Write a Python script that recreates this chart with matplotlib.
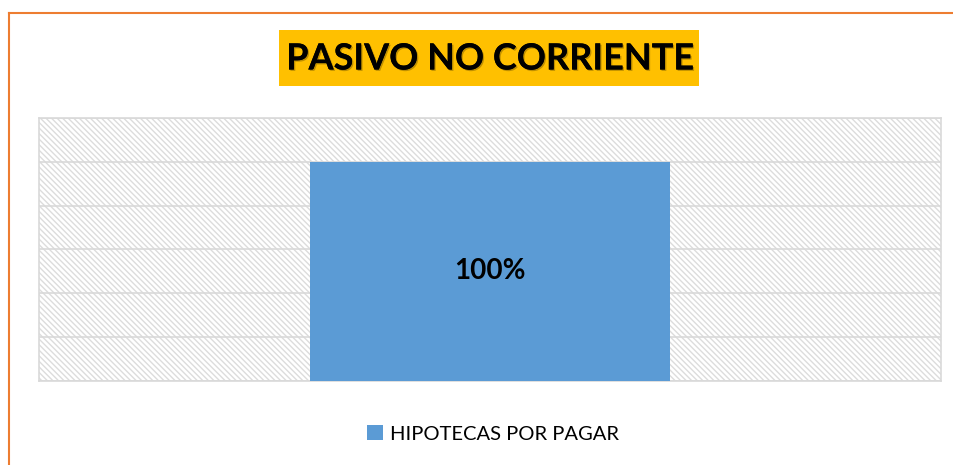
import matplotlib
matplotlib.use("Agg")
import matplotlib.pyplot as plt
from matplotlib.patches import Rectangle
from matplotlib.lines import Line2D
import matplotlib.patheffects as pe

categories = ["HIPOTECAS POR PAGAR"]
values = [1.0]
labels = ["100%"]
title = "PASIVO NO CORRIENTE"

plt.rcParams['font.family'] = ['Lato', 'DejaVu Sans']
plt.rcParams['hatch.linewidth'] = 1.0

fig = plt.figure(figsize=(9.54, 4.65), dpi=100)
fig.patch.set_facecolor("white")

# orange outer frame (only left and top visible)
fx, fy = 9.5 / 954, 1 - 13.5 / 465
fig.add_artist(Line2D([fx, fx], [0, fy], transform=fig.transFigure, color="#ED7D31", lw=1.5))
fig.add_artist(Line2D([fx, 1], [fy, fy], transform=fig.transFigure, color="#ED7D31", lw=1.5))

ax = fig.add_axes([39 / 954, 1 - 381 / 465, 902 / 954, 263 / 465])
ax.set_facecolor("white")
ax.add_patch(Rectangle((0, 0), 1, 1, transform=ax.transAxes, facecolor="white",
                       edgecolor="#dcdcdc", hatch="\\\\\\\\\\\\", linewidth=0, zorder=0))

bars = ax.bar(range(len(categories)), values, width=0.4, color="#5B9BD5",
              label=categories[0], zorder=3)
for b, lab in zip(bars, labels):
    ax.text(b.get_x() + b.get_width() / 2, b.get_height() / 2, lab, ha="center", va="center",
            fontsize=20, fontweight="bold", color="black", zorder=4)

ax.set_xlim(-0.5, 0.5)
ax.set_ylim(0, 1.2)
ax.set_yticks([0, 0.2, 0.4, 0.6, 0.8, 1.0, 1.2])
ax.yaxis.grid(True, color="#d9d9d9", linewidth=1.2, zorder=1)
ax.set_axisbelow(True)
ax.tick_params(left=False, bottom=False, labelleft=False, labelbottom=False)
for s in ax.spines.values():
    s.set_color("#d9d9d9")
    s.set_linewidth(1.2)

# title with yellow box
fig.patches.append(Rectangle((279 / 954, 1 - 86 / 465), 420 / 954, 56 / 465,
                             transform=fig.transFigure, facecolor="#FFC000", edgecolor="none", zorder=1))
fig.text(490 / 954, 1 - 59 / 465, title, ha="center", va="center", fontsize=26,
         fontweight="bold", color="black", zorder=2,
         path_effects=[pe.withSimplePatchShadow(offset=(1, -1), alpha=0.25), pe.Normal()])

fig.legend(loc="center", bbox_to_anchor=(493 / 954, 1 - 434 / 465), frameon=False,
           fontsize=14.5, handlelength=0.75, handleheight=0.75, handletextpad=0.35)

fig.savefig("out.png", dpi=100)
